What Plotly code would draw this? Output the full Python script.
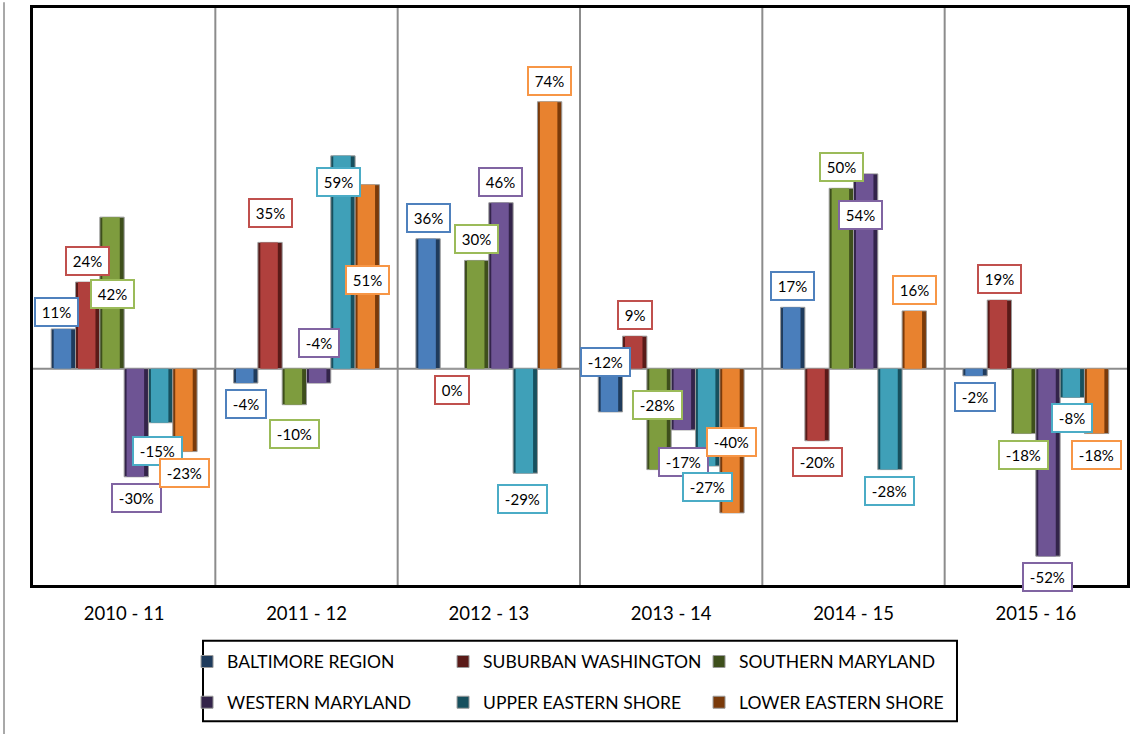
import plotly.graph_objects as go

# ---- data -------------------------------------------------------------
years = ["2010 - 11", "2011 - 12", "2012 - 13", "2013 - 14", "2014 - 15", "2015 - 16"]
regions = ["BALTIMORE REGION", "SUBURBAN WASHINGTON", "SOUTHERN MARYLAND",
           "WESTERN MARYLAND", "UPPER EASTERN SHORE", "LOWER EASTERN SHORE"]

baltimore = [11, -4, 36, -12, 17, -2]
suburban_washington = [24, 35, 0, 9, -20, 19]
southern_maryland = [42, -10, 30, -28, 50, -18]
western_maryland = [-30, -4, 46, -17, 54, -52]
upper_eastern_shore = [-15, 59, -29, -27, -28, -8]
lower_eastern_shore = [-23, 51, 74, -40, 16, -18]

series = [baltimore, suburban_washington, southern_maryland,
          western_maryland, upper_eastern_shore, lower_eastern_shore]

# ---- styling ----------------------------------------------------------
main_colors = ["#4A7EBB", "#B0403D", "#7E9C3E", "#6E5494", "#3FA0B8", "#E8822F"]
dark_colors = ["#1F3B5C", "#5A1A18", "#3E4F1C", "#33244A", "#17505E", "#7A3A0A"]
label_colors = ["#4F81BD", "#C0504D", "#9BBB59", "#8064A2", "#4BACC6", "#F79646"]

# manual label nudges (series, year) -> (dx px, dy px downwards), like the moved Excel labels
label_nudge = {
    (0, 0): (-7, 4), (2, 0): (0, 98), (4, 0): (-3, 7),
    (1, 1): (0, -8), (2, 1): (0, 8), (3, 1): (0, -61), (4, 1): (-4, 47), (5, 1): (0, 116),
    (4, 2): (-3, 5),
    (0, 3): (-5, -71), (2, 3): (-2, -86), (3, 3): (0, 11), (5, 3): (0, -92),
    (3, 4): (-5, 62),
}

FONT = "Lato, Carlito, Calibri, sans-serif"
xs = list(range(len(years)))
group_w = 0.8
w = group_w / len(series)

fig = go.Figure()
annotations = []
for s, vals in enumerate(series):
    off = -group_w / 2 + s * w
    legend = "legend" if s < 3 else "legend2"
    fig.add_trace(go.Bar(x=xs, y=vals, width=w, offset=off, name=regions[s],
                         marker=dict(color=dark_colors[s], line=dict(color="#9a9a9a", width=1)),
                         legend=legend, hoverinfo="name+y"))
    fig.add_trace(go.Bar(x=xs, y=vals, width=w * 0.72, offset=off + w * 0.1,
                         marker=dict(color=main_colors[s], line=dict(width=0)),
                         showlegend=False, hoverinfo="skip"))
    for c, v in enumerate(vals):
        dx, dy = label_nudge.get((s, c), (0, 0))
        base = 21 if v > 0 else -21
        annotations.append(dict(
            x=c + off + w / 2, y=v, xref="x", yref="y", text=f"\u2009{v}%\u2009",
            showarrow=False, xshift=dx, yshift=base - dy,
            font=dict(family=FONT, size=15, color="black"),
            bgcolor="white", bordercolor=label_colors[s], borderwidth=2, borderpad=4))

shapes = []
for b in range(len(years) - 1):
    shapes.append(dict(type="line", xref="x", yref="paper", x0=b + 0.5, x1=b + 0.5,
                       y0=0, y1=1, line=dict(color="#8c8c8c", width=2), layer="below"))
shapes.append(dict(type="line", xref="paper", yref="y", x0=0, x1=1, y0=0, y1=0,
                   line=dict(color="#8c8c8c", width=2), layer="below"))
# legend frame
shapes.append(dict(type="rect", xref="paper", yref="paper", x0=0.1554, x1=0.8446,
                   y0=-0.2362, y1=-0.0966, line=dict(color="black", width=2)))
# outer left edge line
shapes.append(dict(type="line", xref="paper", yref="paper", x0=-0.0265, x1=-0.0265,
                   y0=-0.26, y1=1.01, line=dict(color="#8c8c8c", width=1.5)))

legend_style = dict(orientation="h", x=0.1408, xanchor="left", yanchor="middle",
                    entrywidth=211, entrywidthmode="pixels", font=dict(size=17.5),
                    bgcolor="rgba(0,0,0,0)", itemclick=False)

fig.update_layout(
    width=1143, height=734,
    margin=dict(l=33, r=16, t=5, b=149),
    barmode="overlay",
    plot_bgcolor="white", paper_bgcolor="white",
    font=dict(family=FONT, color="black"),
    xaxis=dict(range=[-0.5, 5.5], tickvals=xs, ticktext=years, showgrid=False,
               zeroline=False, showline=True, mirror=True, linecolor="black",
               linewidth=2.5, ticks="", tickfont=dict(size=18.5), ticklabelstandoff=10),
    yaxis=dict(range=[-60, 100], showticklabels=False, showgrid=False, zeroline=False,
               showline=True, mirror=True, linecolor="black", linewidth=2.5, ticks=""),
    legend=dict(legend_style, y=-0.1328),
    legend2=dict(legend_style, y=-0.2034),
    annotations=annotations,
    shapes=shapes,
    showlegend=True,
)

fig.write_html("out.html", config={"displayModeBar": False},
               post_script="document.body.style.margin='0';")
